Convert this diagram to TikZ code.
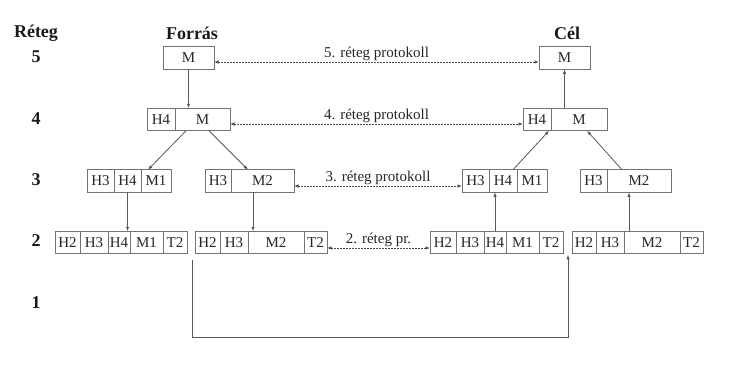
\documentclass[tikz,border=0pt]{standalone}
\usepackage{fontspec}
\setmainfont{Liberation Serif}
\usetikzlibrary{positioning,arrows.meta}

\begin{document}
\begin{tikzpicture}[x=1pt,y=-1pt,>={Latex[length=4.5pt,width=3.5pt]}]
\tikzstyle{every node}=[font=\fontsize{15}{18}\selectfont,text=black!85]
\tikzstyle{cell}=[draw=black!55,line width=0.8pt,minimum height=22.5pt,inner sep=0pt,outer sep=0pt]
\tikzstyle{head}=[font=\fontsize{18}{20}\selectfont\bfseries,text=black!90]
\tikzstyle{link}=[->,draw=black!65,line width=0.8pt]
\tikzstyle{proto}=[<->,draw=black!70,line width=0.8pt,dash pattern=on 1.5pt off 1.5pt]

\useasboundingbox (0,0) rectangle (752,367);

\node[head] (reteg) at (36,33) {Réteg};
\node[head] (forras) at (192,33) {Forrás};
\node[head] (cel) at (567,33) {Cél};

\foreach \n/\yy in {5/57,4/119,3/180,2/241,1/303}{
    \node[head] (lyr\n) at (36,\yy) {\n};
}

% source side
\node[cell,minimum width=51pt,anchor=west] (s5) at (163,58) {M};

\node[cell,minimum width=28pt,anchor=west] (s4h) at (147,119.5) {H4};
\node[cell,minimum width=55pt,right=0pt of s4h] (s4m) {M};

\node[cell,minimum width=27pt,anchor=west] (s3ah) at (87,181) {H3};
\node[cell,minimum width=27pt,right=0pt of s3ah] (s3ah4) {H4};
\node[cell,minimum width=30pt,right=0pt of s3ah4] (s3am) {M1};
\node[cell,minimum width=26pt,anchor=west] (s3bh) at (205,181) {H3};
\node[cell,minimum width=63pt,right=0pt of s3bh] (s3bm) {M2};

\node[cell,minimum width=25pt,anchor=west] (s2a1) at (55,242.5) {H2};
\node[cell,minimum width=28pt,right=0pt of s2a1] (s2a2) {H3};
\node[cell,minimum width=22pt,right=0pt of s2a2] (s2a3) {H4};
\node[cell,minimum width=33pt,right=0pt of s2a3] (s2a4) {M1};
\node[cell,minimum width=24pt,right=0pt of s2a4] (s2a5) {T2};
\node[cell,minimum width=25pt,anchor=west] (s2b1) at (195,242.5) {H2};
\node[cell,minimum width=28pt,right=0pt of s2b1] (s2b2) {H3};
\node[cell,minimum width=56pt,right=0pt of s2b2] (s2b3) {M2};
\node[cell,minimum width=23pt,right=0pt of s2b3] (s2b4) {T2};

% destination side
\node[cell,minimum width=51pt,anchor=west] (d5) at (539,58) {M};

\node[cell,minimum width=28pt,anchor=west] (d4h) at (523,119.5) {H4};
\node[cell,minimum width=56pt,right=0pt of d4h] (d4m) {M};

\node[cell,minimum width=27pt,anchor=west] (d3ah) at (462,181) {H3};
\node[cell,minimum width=28pt,right=0pt of d3ah] (d3ah4) {H4};
\node[cell,minimum width=30pt,right=0pt of d3ah4] (d3am) {M1};
\node[cell,minimum width=27pt,anchor=west] (d3bh) at (580,181) {H3};
\node[cell,minimum width=64pt,right=0pt of d3bh] (d3bm) {M2};

\node[cell,minimum width=26pt,anchor=west] (d2a1) at (430,242.5) {H2};
\node[cell,minimum width=28pt,right=0pt of d2a1] (d2a2) {H3};
\node[cell,minimum width=22pt,right=0pt of d2a2] (d2a3) {H4};
\node[cell,minimum width=33pt,right=0pt of d2a3] (d2a4) {M1};
\node[cell,minimum width=24pt,right=0pt of d2a4] (d2a5) {T2};
\node[cell,minimum width=24pt,anchor=west] (d2b1) at (572,242.5) {H2};
\node[cell,minimum width=28pt,right=0pt of d2b1] (d2b2) {H3};
\node[cell,minimum width=56pt,right=0pt of d2b2] (d2b3) {M2};
\node[cell,minimum width=23pt,right=0pt of d2b3] (d2b4) {T2};

% going down
\draw[link] (s5.south) -- (s5.south |- s4m.north);
\draw[link] ([xshift=11pt]s4m.south west) -- ([xshift=7pt]s3am.north west);
\draw[link] ([xshift=34pt]s4m.south west) -- ([xshift=17pt]s3bm.north west);
\draw[link] (s3ah4.south) -- (s3ah4.south |- s2a3.north);
\draw[link] ([xshift=22pt]s3bm.south west) -- ([xshift=5pt]s2b3.north west);

% going up
\draw[link] (d2a3.north) -- (d2a3.north |- d3ah4.south);
\draw[link] ([xshift=5pt]d2b3.north west) -- ([xshift=22pt]d3bm.south west);
\draw[link] ([xshift=-4pt]d3ah4.north east) -- ([xshift=-2pt]d4h.south east);
\draw[link] ([xshift=15pt]d3bm.north west) -- ([xshift=36pt]d4m.south west);
\draw[link] (d5.south |- d4m.north) -- (d5.south);

% physical line
\coordinate (phyA) at ([xshift=-3pt,yshift=-6pt]s2b1.south west);
\coordinate (phyB) at ([xshift=-4pt,yshift=-1pt]d2b1.south west);
\draw[link] (phyA) -- ++(0,78) -| (phyB);

% peer protocols
\draw[proto] ([yshift=-4pt]s5.east) -- node[above,inner sep=1pt] {5. réteg protokoll} ([yshift=-4pt]d5.west);
\draw[proto] ([yshift=-4.5pt]s4m.east) -- node[above,inner sep=1pt] {4. réteg protokoll} ([yshift=-4.5pt]d4h.west);
\draw[proto] ([yshift=-5pt]s3bm.east) -- node[above,inner sep=1pt] {3. réteg protokoll} ([yshift=-5pt]d3ah.west);
\draw[proto] ([yshift=-5.5pt]s2b4.east) -- node[above,inner sep=1pt] {2. réteg pr.} ([yshift=-5.5pt]d2a1.west);
\end{tikzpicture}
\end{document}
